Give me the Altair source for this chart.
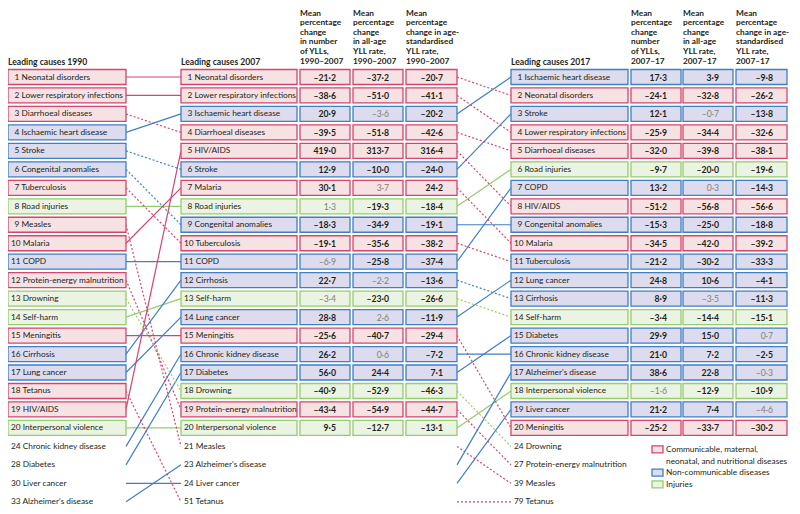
import altair as alt
import pandas as pd

# ---------------- data ----------------
names_1990 = ["Neonatal disorders", "Lower respiratory infections", "Diarrhoeal diseases",
              "Ischaemic heart disease", "Stroke", "Congenital anomalies", "Tuberculosis",
              "Road injuries", "Measles", "Malaria", "COPD", "Protein-energy malnutrition",
              "Drowning", "Self-harm", "Meningitis", "Cirrhosis", "Lung cancer", "Tetanus",
              "HIV/AIDS", "Interpersonal violence", "Chronic kidney disease", "Diabetes",
              "Liver cancer", "Alzheimer's disease"]
ranks_1990 = list(range(1, 21)) + [24, 28, 30, 33]

names_2007 = ["Neonatal disorders", "Lower respiratory infections", "Ischaemic heart disease",
              "Diarrhoeal diseases", "HIV/AIDS", "Stroke", "Malaria", "Road injuries",
              "Congenital anomalies", "Tuberculosis", "COPD", "Cirrhosis", "Self-harm",
              "Lung cancer", "Meningitis", "Chronic kidney disease", "Diabetes", "Drowning",
              "Protein-energy malnutrition", "Interpersonal violence", "Measles",
              "Alzheimer's disease", "Liver cancer", "Tetanus"]
ranks_2007 = list(range(1, 21)) + [21, 23, 24, 51]

names_2017 = ["Ischaemic heart disease", "Neonatal disorders", "Stroke",
              "Lower respiratory infections", "Diarrhoeal diseases", "Road injuries", "COPD",
              "HIV/AIDS", "Congenital anomalies", "Malaria", "Tuberculosis", "Lung cancer",
              "Cirrhosis", "Self-harm", "Diabetes", "Chronic kidney disease",
              "Alzheimer's disease", "Interpersonal violence", "Liver cancer", "Meningitis",
              "Drowning", "Protein-energy malnutrition", "Measles", "Tetanus"]
ranks_2017 = list(range(1, 21)) + [24, 27, 39, 79]

communicable = ["Neonatal disorders", "Lower respiratory infections", "Diarrhoeal diseases",
                "Tuberculosis", "Measles", "Malaria", "Protein-energy malnutrition",
                "Meningitis", "Tetanus", "HIV/AIDS"]
non_communicable = ["Ischaemic heart disease", "Stroke", "Congenital anomalies", "COPD",
                    "Cirrhosis", "Lung cancer", "Chronic kidney disease", "Diabetes",
                    "Liver cancer", "Alzheimer's disease"]
injuries = ["Road injuries", "Drowning", "Self-harm", "Interpersonal violence"]
# boxes drawn in the non-communicable colour in the 2017 column
boxed_ncd_2017 = ["Tuberculosis"]

# 2007 columns (in 2007 rank order, ranks 1-20)
num_1990_2007 = [-21.2, -38.6, 20.9, -39.5, 419.0, 12.9, 30.1, 1.3, -18.3, -19.1,
                 -6.9, 22.7, -3.4, 28.8, -25.6, 26.2, 56.0, -40.9, -43.4, 9.5]
all_1990_2007 = [-37.2, -51.0, -3.6, -51.8, 313.7, -10.0, 3.7, -19.3, -34.9, -35.6,
                 -25.8, -2.2, -23.0, 2.6, -40.7, 0.6, 24.4, -52.9, -54.9, -12.7]
std_1990_2007 = [-20.7, -41.1, -20.2, -42.6, 316.4, -24.0, 24.2, -18.4, -19.1, -38.2,
                 -37.4, -13.6, -26.6, -11.9, -29.4, -7.2, 7.1, -46.3, -44.7, -13.1]
# 2017 columns (in 2017 rank order, ranks 1-20)
num_2007_2017 = [17.3, -24.1, 12.1, -25.9, -32.0, -9.7, 13.2, -51.2, -15.3, -34.5,
                 -21.2, 24.8, 8.9, -3.4, 29.9, 21.0, 38.6, -1.6, 21.2, -25.2]
all_2007_2017 = [3.9, -32.8, -0.7, -34.4, -39.8, -20.0, 0.3, -56.8, -25.0, -42.0,
                 -30.2, 10.6, -3.5, -14.4, 15.0, 7.2, 22.8, -12.9, 7.4, -33.7]
std_2007_2017 = [-9.8, -26.2, -13.8, -32.6, -38.1, -19.6, -14.3, -56.6, -18.8, -39.2,
                 -33.3, -4.1, -11.3, -15.1, 0.7, -2.5, -0.3, -10.9, -4.6, -30.2]
# ranks whose value is printed in grey (not significant)
grey_num_2007 = [8, 11, 13]
grey_all_2007 = [3, 7, 12, 14, 16]
grey_std_2007 = []
grey_num_2017 = [18]
grey_all_2017 = [3, 7, 13]
grey_std_2017 = [15, 17, 19]

headers_2007 = [
    ["Mean", "percentage", "change", "in number", "of YLLs,", "1990–2007"],
    ["Mean", "percentage", "change", "in all-age", "YLL rate,", "1990–2007"],
    ["Mean", "percentage", "change in age-", "standardised", "YLL rate,", "1990–2007"],
]
headers_2017 = [
    ["Mean", "percentage", "change", "number", "of YLLs,", "2007–17"],
    ["Mean", "percentage", "change", "in all-age", "YLL rate,", "2007–17"],
    ["Mean", "percentage", "change in age-", "standardised", "YLL rate,", "2007–17"],
]
column_titles = ["Leading causes 1990", "Leading causes 2007", "Leading causes 2017"]
legend_lines = [["Communicable, maternal,", "neonatal, and nutritional diseases"],
                ["Non-communicable diseases"], ["Injuries"]]

# ---------------- styles / layout ----------------
CATS = ["cmnn", "ncd", "inj"]
STROKES = ["#d4456f", "#3f7fc2", "#95cc6e"]
FILLS = ["#f6e1e3", "#dcdcee", "#ebf3e2"]
FONT = "Lato"
FS_NAME = 8.3
FS_VAL = 8.7
FS_HEAD = 8.3
FS_TITLE = 8.6
TXT = "#231f20"
GREY = "#808080"

ROW0, ROWH, HB = 77.0, 18.47, 7.5
NAME_BOX = {"1990": (8, 126), "2007": (181, 297), "2017": (511, 628)}
VAL_BOX_2007 = [(300, 350), (353, 403), (406, 457)]
VAL_BOX_2017 = [(631, 681), (683, 733), (736, 787)]
HEAD_Y_LAST, HEAD_DY = 61.0, 9.55


def cat_of(n):
    if n in communicable:
        return "cmnn"
    if n in injuries:
        return "inj"
    return "ncd"


def yrow(i):
    return ROW0 + i * ROWH


def fmt(v):
    s = f"{abs(v):.1f}".replace(".", "·")
    return ("–" + s) if v < 0 else s


boxes, labels, vals, heads, titles = [], [], [], [], []

cols = [("1990", names_1990, ranks_1990), ("2007", names_2007, ranks_2007),
        ("2017", names_2017, ranks_2017)]
for key, names, ranks in cols:
    x0, x1 = NAME_BOX[key]
    for i, (n, r) in enumerate(zip(names, ranks)):
        c = cat_of(n)
        if key == "2017" and n in boxed_ncd_2017:
            c = "ncd"
        if r <= 20:
            boxes.append(dict(x=x0, x2=x1, y=yrow(i) - HB, y2=yrow(i) + HB, cat=c))
            tx = x0 + (6.5 if r < 10 else 3)
        else:
            tx = x0 + 3
        labels.append(dict(x=tx, y=yrow(i) + 0.5, t=f"{r} {n}"))

val_sets = [
    (names_2007, VAL_BOX_2007, [num_1990_2007, all_1990_2007, std_1990_2007],
     [grey_num_2007, grey_all_2007, grey_std_2007], False),
    (names_2017, VAL_BOX_2017, [num_2007_2017, all_2007_2017, std_2007_2017],
     [grey_num_2017, grey_all_2017, grey_std_2017], True),
]
for names, vboxes, series, greys, is2017 in val_sets:
    for k, ((x0, x1), s, g) in enumerate(zip(vboxes, series, greys)):
        for i, v in enumerate(s):
            n = names[i]
            c = cat_of(n)
            if is2017 and n in boxed_ncd_2017:
                c = "ncd"
            boxes.append(dict(x=x0, x2=x1, y=yrow(i) - HB, y2=yrow(i) + HB, cat=c))
            vals.append(dict(x=x1 - 14, y=yrow(i) + 0.5, t=fmt(v),
                             grey=(i + 1) in g))

for (x0, _), lines in zip(VAL_BOX_2007 + VAL_BOX_2017, headers_2007 + headers_2017):
    for j, line in enumerate(lines):
        heads.append(dict(x=x0, y=HEAD_Y_LAST - (len(lines) - 1 - j) * HEAD_DY + 0.5, t=line))
for key, title in zip(["1990", "2007", "2017"], column_titles):
    titles.append(dict(x=NAME_BOX[key][0], y=HEAD_Y_LAST + 0.5, t=title))

links = []
for i, n in enumerate(names_1990):
    j = names_2007.index(n)
    links.append(dict(x=NAME_BOX["1990"][1], x2=NAME_BOX["2007"][0], y=yrow(i), y2=yrow(j),
                      cat=cat_of(n), dashed=ranks_2007[j] > ranks_1990[i]))
for j, n in enumerate(names_2007):
    k = names_2017.index(n)
    links.append(dict(x=VAL_BOX_2007[2][1], x2=NAME_BOX["2017"][0], y=yrow(j), y2=yrow(k),
                      cat=cat_of(n), dashed=ranks_2017[k] > ranks_2007[j]))

leg_boxes, leg_text = [], []
LEG_Y0, LEG_DY = 449.3, 11.7
li = 0
for c, lines in zip(CATS, legend_lines):
    yc = LEG_Y0 + li * LEG_DY
    leg_boxes.append(dict(x=652, x2=663, y=yc - 3.5, y2=yc + 3.5, cat=c))
    for line in lines:
        leg_text.append(dict(x=666, y=LEG_Y0 + li * LEG_DY + 0.5, t=line))
        li += 1

# ---------------- chart ----------------
TOP_PAD = 0
xs = alt.Scale(domain=[8, 792], nice=False, zero=False)
ys = alt.Scale(domain=[8 + TOP_PAD, 506], reverse=True, nice=False, zero=False)
stroke_enc = alt.Stroke("cat:N", scale=alt.Scale(domain=CATS, range=STROKES), legend=None)
fill_enc = alt.Fill("cat:N", scale=alt.Scale(domain=CATS, range=FILLS), legend=None)


def X(f="x"):
    return alt.X(f"{f}:Q", scale=xs, axis=None)


def Y(f="y"):
    return alt.Y(f"{f}:Q", scale=ys, axis=None)


link_df = pd.DataFrame(links)
solid = alt.Chart(link_df[~link_df.dashed]).mark_rule(strokeWidth=1.2).encode(
    x=X(), x2="x2:Q", y=Y(), y2="y2:Q", stroke=stroke_enc)
dashed = alt.Chart(link_df[link_df.dashed]).mark_rule(
    strokeWidth=1.2, strokeDash=[2, 2]).encode(
    x=X(), x2="x2:Q", y=Y(), y2="y2:Q", stroke=stroke_enc)

rects = alt.Chart(pd.DataFrame(boxes + leg_boxes)).mark_rect(strokeWidth=1.3).encode(
    x=X(), x2="x2:Q", y=Y(), y2="y2:Q", fill=fill_enc, stroke=stroke_enc)

label_layer = alt.Chart(pd.DataFrame(labels + leg_text)).mark_text(
    align="left", baseline="middle", font=FONT, fontSize=FS_NAME, color=TXT).encode(
    x=X(), y=Y(), text="t:N")

vdf = pd.DataFrame(vals)
val_dark = alt.Chart(vdf[~vdf.grey]).mark_text(
    align="right", baseline="middle", font=FONT, fontSize=FS_VAL, fontWeight="bold",
    color=TXT).encode(x=X(), y=Y(), text="t:N")
val_grey = alt.Chart(vdf[vdf.grey]).mark_text(
    align="right", baseline="middle", font=FONT, fontSize=FS_VAL, color=GREY).encode(
    x=X(), y=Y(), text="t:N")

head_layer = alt.Chart(pd.DataFrame(heads)).mark_text(
    align="left", baseline="middle", font=FONT, fontSize=FS_HEAD, fontWeight="bold",
    color=TXT).encode(x=X(), y=Y(), text="t:N")
title_layer = alt.Chart(pd.DataFrame(titles)).mark_text(
    align="left", baseline="middle", font=FONT, fontSize=FS_TITLE, fontWeight="bold",
    color=TXT).encode(x=X(), y=Y(), text="t:N")

chart = alt.layer(solid, dashed, rects, label_layer, val_dark, val_grey, head_layer,
                  title_layer).properties(
    width=784, height=498 - TOP_PAD,
    padding={"left": 0, "top": TOP_PAD, "right": 0, "bottom": 0}, autosize="none"
).configure_view(stroke=None)

chart.save("out.html", embed_options={"renderer": "svg", "actions": False})
